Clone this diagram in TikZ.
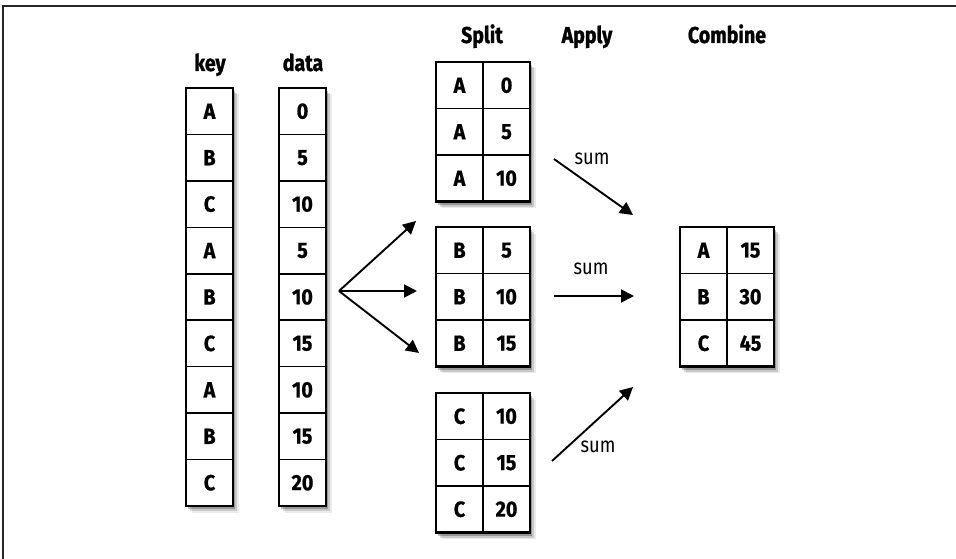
\documentclass[tikz,border=0pt]{standalone}
\usepackage{fontspec}
\setmainfont{Fira Sans}
\newfontfamily\narrowfont{Fira Sans}[FakeStretch=0.85, BoldFeatures={FakeBold=1.2}]
\newfontfamily\cellfont{Fira Sans}[FakeStretch=0.9, BoldFeatures={FakeBold=0.8}]
\usetikzlibrary{arrows.meta,shadows}
\begin{document}
\begin{tikzpicture}[x=1pt,y=-1pt,
  tbl/.style={draw=black, line width=2.6pt, fill=white, inner sep=0pt,
    general shadow={shadow xshift=2pt, shadow yshift=-3pt, fill=black, opacity=.25},
    general shadow={shadow xshift=4pt, shadow yshift=-5pt, fill=black, opacity=.15},
    general shadow={shadow xshift=5.5pt, shadow yshift=-6.5pt, fill=black, opacity=.08}},
  rim/.style={draw=black, line width=2.6pt, fill=none, inner sep=0pt},
  cell/.style={draw=black, line width=1.6pt, inner sep=0pt, minimum width=47pt,
    minimum height=46.5pt, font=\cellfont\fontsize{22}{26}\selectfont\bfseries},
  hdr/.style={anchor=base, font=\narrowfont\fontsize{23}{27}\selectfont\bfseries},
  lbl/.style={font=\narrowfont\fontsize{21.5}{24}\selectfont},
  arr/.style={line width=1.9pt, -{Triangle[length=13pt,width=13pt]}},
  border/.style={draw=black!85, line width=1.3pt}]
\useasboundingbox (0,0) rectangle (956,559);
\draw[border] (3,559) -- (3,6) -- (956,6);

% headers
\node[hdr] (hkey) at (210,71) {key};
\node[hdr] (hdata) at (303,71) {data};
\node[hdr] (hsplit) at (482,43) {Split};
\node[hdr] (happly) at (587,43) {Apply};
\node[hdr] (hcomb) at (727,43) {Combine};

% key and data columns
\node[tbl, minimum width=47pt, minimum height=418pt] (keycol) at (209.5,297) {};
\node[tbl, minimum width=47pt, minimum height=418pt] (datacol) at (302.5,297) {};
\foreach \k [count=\i] in {A,B,C,A,B,C,A,B,C}
  \node[cell, minimum height=46.44pt] (k\i) at (209.5,{88+46.44*(\i-0.5)}) {\k};
\foreach \d [count=\i] in {0,5,10,5,10,15,10,15,20}
  \node[cell, minimum height=46.44pt] (d\i) at (302.5,{88+46.44*(\i-0.5)}) {\d};
\node[rim, minimum width=47pt, minimum height=418pt] at (keycol) {};
\node[rim, minimum width=47pt, minimum height=418pt] at (datacol) {};

% split tables
\foreach \n/\top/\key/\va/\vb/\vc in {sa/62/A/0/5/10, sb/227/B/5/10/15, sc/393/C/10/15/20}{
  \node[tbl, minimum width=94pt, minimum height=139.5pt] (\n) at (483,{\top+69.75}) {};
  \node[cell] (\n-l1) at (459.5,{\top+23.25}) {\key};
  \node[cell] (\n-r1) at (506.5,{\top+23.25}) {\va};
  \node[cell] (\n-l2) at (459.5,{\top+69.75}) {\key};
  \node[cell] (\n-r2) at (506.5,{\top+69.75}) {\vb};
  \node[cell] (\n-l3) at (459.5,{\top+116.25}) {\key};
  \node[cell] (\n-r3) at (506.5,{\top+116.25}) {\vc};
  \node[rim, minimum width=94pt, minimum height=139.5pt] at (\n) {};
}

% combined table
\node[tbl, minimum width=94pt, minimum height=139.5pt] (cb) at (727,296.75) {};
\node[cell] (cb-l1) at (703.5,250.25) {A};
\node[cell] (cb-r1) at (750.5,250.25) {15};
\node[cell] (cb-l2) at (703.5,296.75) {B};
\node[cell] (cb-r2) at (750.5,296.75) {30};
\node[cell] (cb-l3) at (703.5,343.25) {C};
\node[cell] (cb-r3) at (750.5,343.25) {45};
\node[rim, minimum width=94pt, minimum height=139.5pt] at (cb) {};

% split arrows
\coordinate (fork) at (339,291);
\coordinate (ta) at (416,221);
\coordinate (tb) at (417,291);
\coordinate (tc) at (419,353);
\draw[arr] (fork) -- (ta);
\draw[arr] (fork) -- (tb);
\draw[arr] (fork) -- (tc);

% apply arrows
\coordinate (a1) at (554,159);
\coordinate (a1e) at (633,215);
\coordinate (a2) at (554,296);
\coordinate (a2e) at (634,296);
\coordinate (a3) at (552,461);
\coordinate (a3e) at (633,387);
\draw[arr] (a1) -- (a1e);
\draw[arr] (a2) -- (a2e);
\draw[arr] (a3) -- (a3e);
\node[lbl] (s1) at (592,159) {sum};
\node[lbl] (s2) at (591,269) {sum};
\node[lbl] (s3) at (598,447) {sum};
\end{tikzpicture}
\end{document}
